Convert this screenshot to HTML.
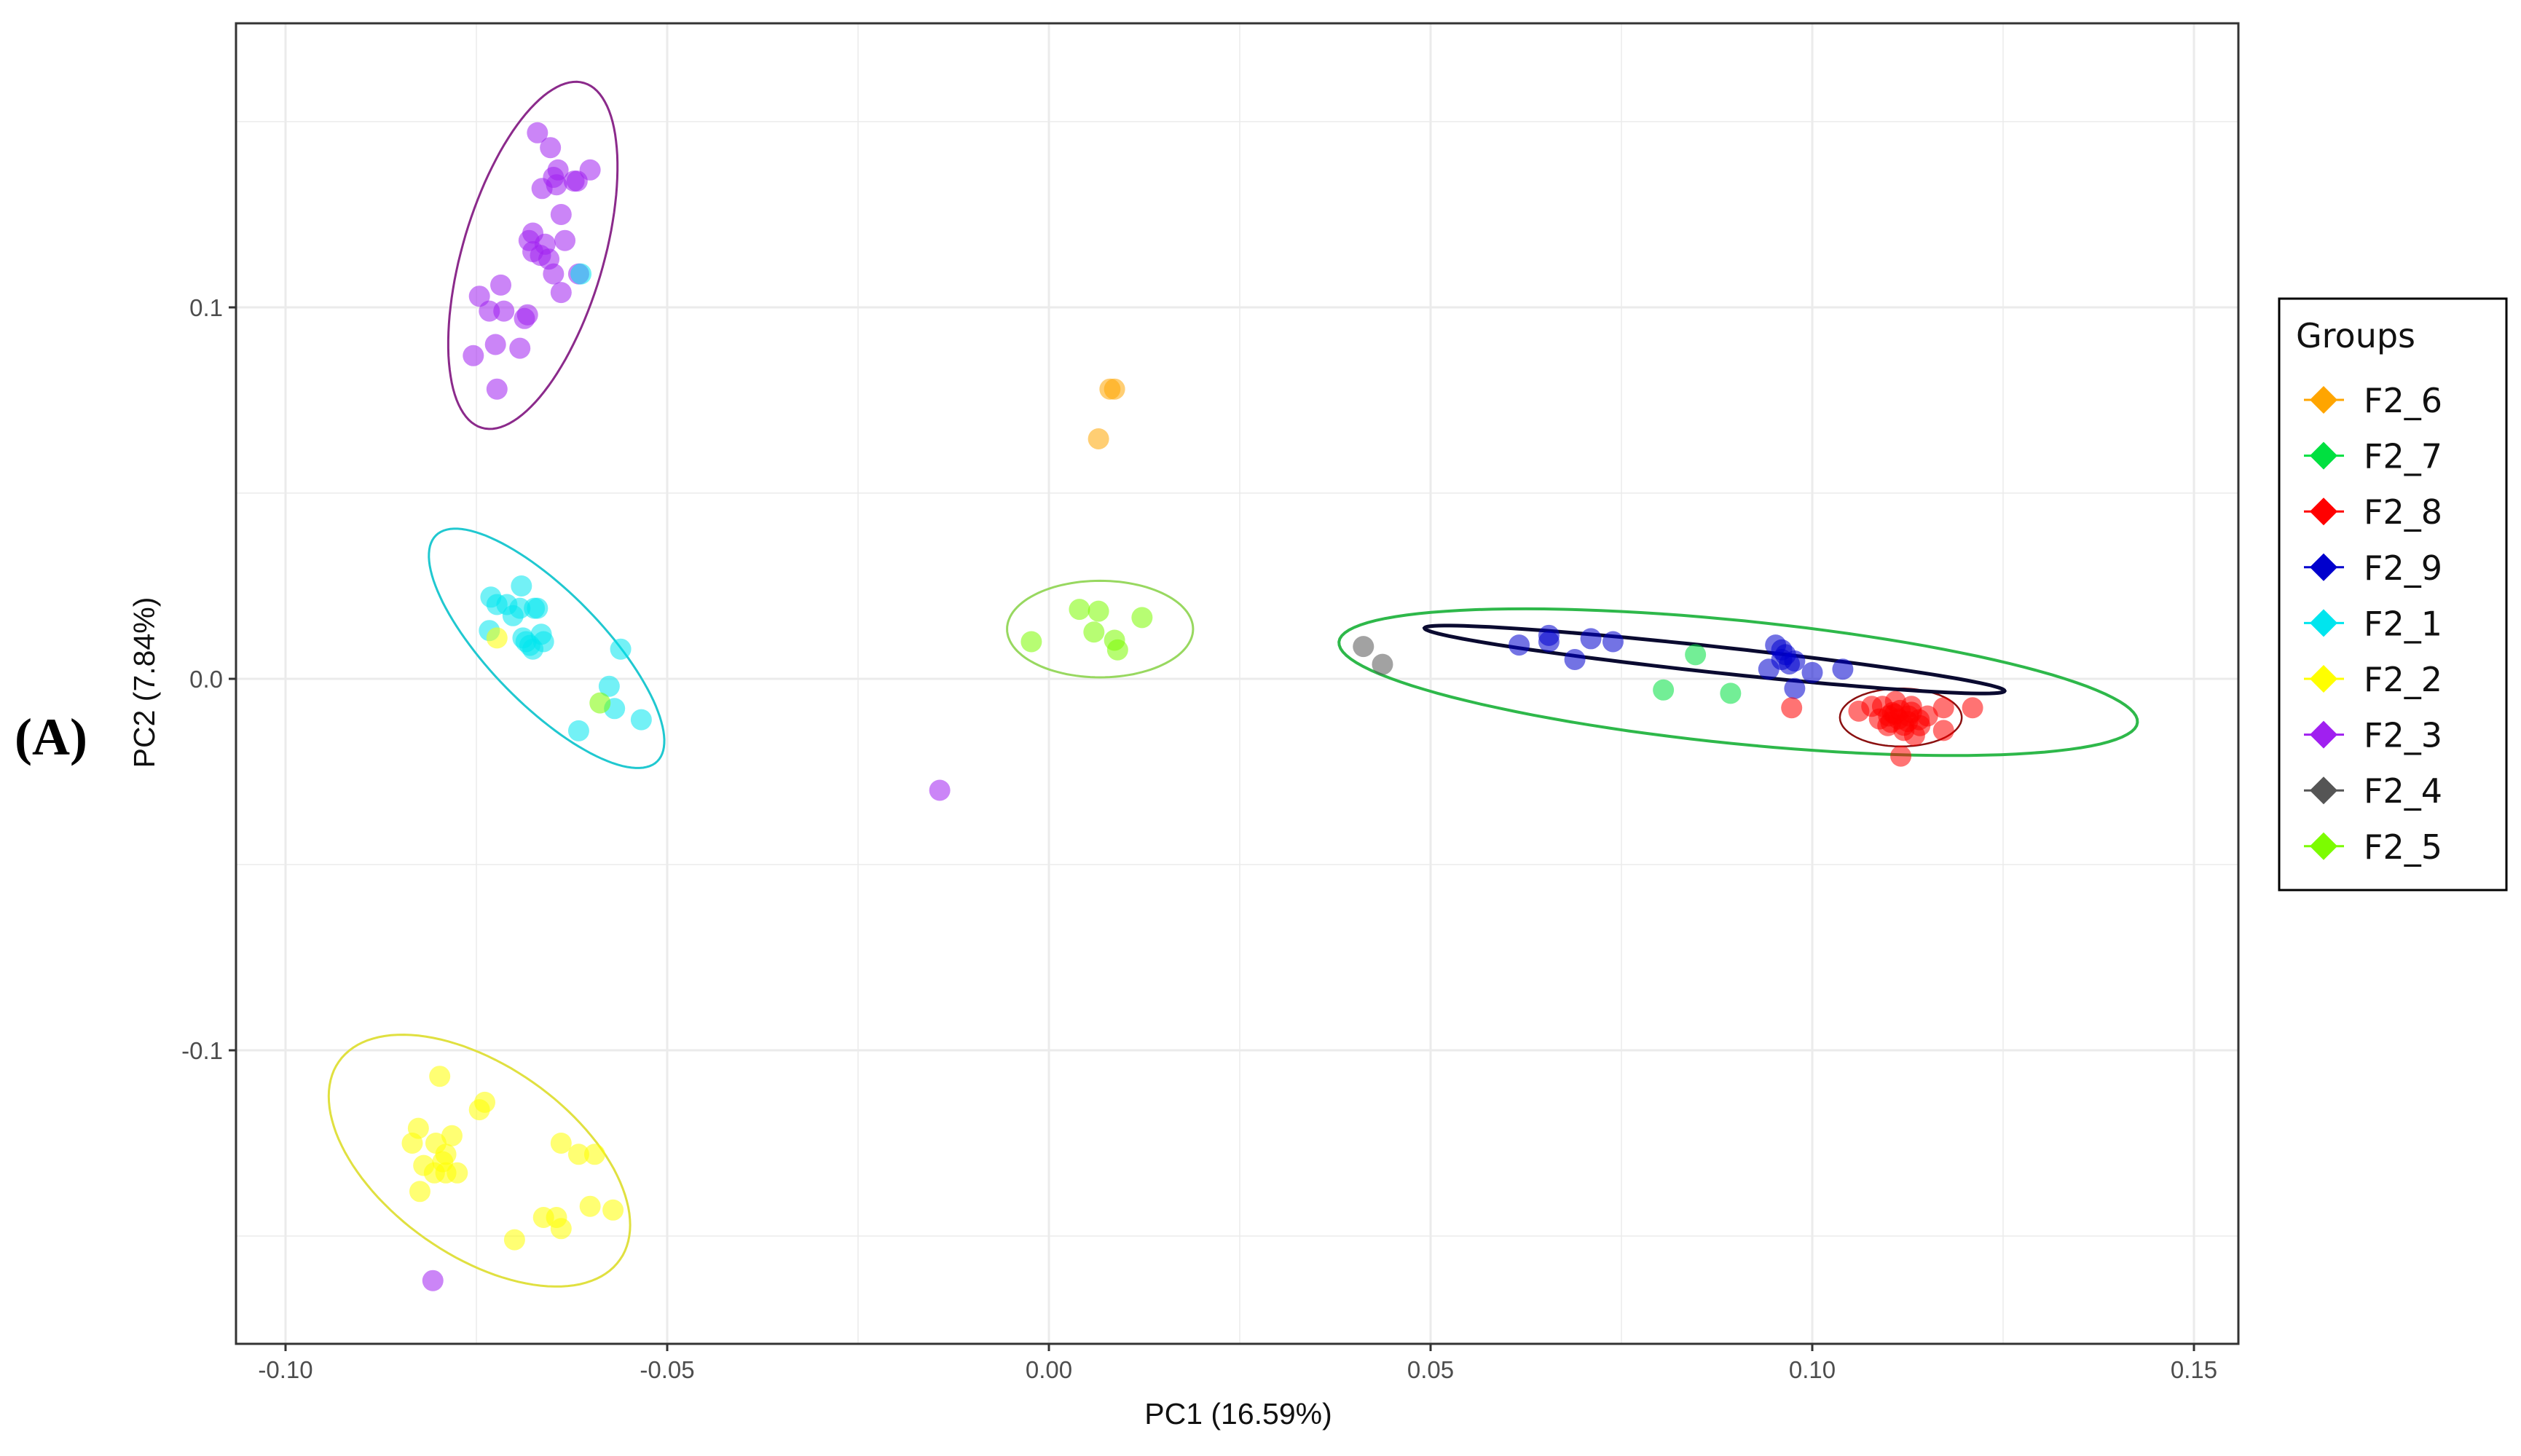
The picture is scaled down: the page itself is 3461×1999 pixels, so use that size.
<!DOCTYPE html>
<html><head><meta charset="utf-8"><style>
html,body{margin:0;padding:0;background:#fff;}
svg{display:block;}
</style></head><body>
<svg id="chart" width="3461" height="1999" viewBox="0 0 3461 1999" xmlns="http://www.w3.org/2000/svg" font-family="Liberation Sans, Arial, sans-serif">
<rect x="0" y="0" width="3461" height="1999" fill="#fff"/>
<g id="grid"></g>
<g id="ellipses"></g>
<g id="points"></g>
<rect x="324" y="32" width="2749" height="1813" fill="none" stroke="#333" stroke-width="3"/>
<g id="axes"></g>
<text x="1700" y="1955" font-size="41" text-anchor="middle" fill="#111">PC1 (16.59%)</text>
<text x="0" y="0" font-size="41" text-anchor="middle" fill="#111" transform="translate(212,937) rotate(-90)">PC2 (7.84%)</text>
<text x="20" y="1036" font-size="72" font-weight="bold" font-family="Liberation Serif, serif" fill="#000">(A)</text>
<g id="legend"></g>
</svg>
<script>
const NS='http://www.w3.org/2000/svg';
const xTicks=[-0.10,-0.05,0.00,0.05,0.10,0.15];
const xTickLabels=['-0.10','-0.05','0.00','0.05','0.10','0.15'];
const yTicks=[0.1,0.0,-0.1];
const yTickLabels=['0.1','0.0','-0.1'];
const groups=['F2_6','F2_7','F2_8','F2_9','F2_1','F2_2','F2_3','F2_4','F2_5'];
const groupColors=['#FFA500','#00E040','#FF0000','#0000CD','#00E5EE','#FFFF00','#A020F0','#555555','#7CFC00'];
const f26x=[0.0080,0.0086,0.0065];
const f26y=[0.078,0.078,0.0646];
const f27x=[0.0847,0.0805,0.0893];
const f27y=[0.0065,-0.0030,-0.0039];
const f28x=[0.0973,0.1061,0.1078,0.1092,0.1109,0.1130,0.1151,0.1172,0.1210,0.1103,0.1120,0.1141,0.1172,0.1116,0.1088,0.1126,0.1105,0.1113,0.1099,0.1134,0.1115,0.1125,0.1108,0.1120,0.1130,0.1100,0.1140];
const f28y=[-0.0078,-0.0087,-0.0074,-0.0074,-0.0061,-0.0074,-0.0100,-0.0078,-0.0078,-0.0117,-0.0139,-0.0126,-0.0139,-0.0208,-0.0108,-0.0100,-0.0091,-0.0108,-0.0126,-0.0152,-0.0085,-0.0115,-0.0095,-0.0125,-0.0090,-0.0100,-0.0110];
const f29x=[0.0616,0.0655,0.0655,0.0689,0.0710,0.0739,0.0960,0.0960,0.0943,0.0977,0.1000,0.1040,0.0977,0.0952,0.0965,0.0970];
const f29y=[0.0091,0.0117,0.0100,0.0052,0.0108,0.0100,0.0078,0.0052,0.0026,0.0048,0.0017,0.0026,-0.0026,0.0091,0.0065,0.0040];
const f21x=[-0.0691,-0.0731,-0.0710,-0.0693,-0.0670,-0.0674,-0.0733,-0.0689,-0.0676,-0.0685,-0.0662,-0.0561,-0.0576,-0.0569,-0.0534,-0.0616,-0.0613,-0.0723,-0.0702,-0.0680,-0.0665];
const f21y=[0.025,0.022,0.020,0.019,0.019,0.019,0.013,0.011,0.008,0.010,0.010,0.008,-0.002,-0.008,-0.011,-0.014,0.109,0.020,0.017,0.009,0.012];
const f22x=[-0.0798,-0.0739,-0.0746,-0.0826,-0.0834,-0.0803,-0.0782,-0.0819,-0.0794,-0.0790,-0.0790,-0.0639,-0.0616,-0.0595,-0.0824,-0.0805,-0.0775,-0.0662,-0.0645,-0.0639,-0.0700,-0.0601,-0.0571,-0.0723];
const f22y=[-0.107,-0.114,-0.116,-0.121,-0.125,-0.125,-0.123,-0.131,-0.130,-0.133,-0.128,-0.125,-0.128,-0.128,-0.138,-0.133,-0.133,-0.145,-0.145,-0.148,-0.151,-0.142,-0.143,0.011];
const f23x=[-0.0670,-0.0653,-0.0643,-0.0649,-0.0664,-0.0645,-0.0622,-0.0601,-0.0618,-0.0639,-0.0676,-0.0681,-0.0660,-0.0634,-0.0655,-0.0649,-0.0639,-0.0616,-0.0676,-0.0666,-0.0746,-0.0733,-0.0718,-0.0714,-0.0687,-0.0683,-0.0693,-0.0754,-0.0725,-0.0723,-0.0143,-0.0807];
const f23y=[0.147,0.143,0.137,0.135,0.132,0.133,0.134,0.137,0.134,0.125,0.120,0.118,0.117,0.118,0.113,0.109,0.104,0.109,0.115,0.114,0.103,0.099,0.106,0.099,0.097,0.098,0.089,0.087,0.090,0.078,-0.030,-0.162];
const f24x=[0.0412,0.0437];
const f24y=[0.0087,0.0039];
const f25x=[-0.0023,0.0040,0.0065,0.0059,0.0122,0.0086,0.0090,-0.0588];
const f25y=[0.010,0.0187,0.0182,0.0126,0.0165,0.0104,0.0078,-0.0065];
// ellipse: center x, center y, axis-a (dx,dy), axis-b (dx,dy) in data units
const ellCx=[0.0903,0.1116,0.0872,-0.0658,-0.0746,-0.0676,0.0067];
const ellCy=[-0.0009,-0.0104,0.0052,0.0082,-0.1297,0.114,0.0134];
const ellAx=[0.0523,0.00798,0.0380,0.0145,0.01842,0.00672,0.01218];
const ellAy=[-0.01085,0,-0.00846,-0.0304,-0.02664,0.0464,0];
const ellBx=[-0.0008,0,-0.00018,0.00525,-0.0071,0.00882,0];
const ellBy=[-0.0165,0.0078,-0.00347,0.01067,-0.02096,-0.00547,0.013];
const ellColors=['#2EB84A','#8B1010','#0A0A30','#20C8D0','#E0E040','#8B2A8B','#98D860'];
const ellWidths=[4,2.5,5,3,3,3,3];

const X0=1440, XS=10480, Y0=932, YS=5100;
const sx=v=>X0+v*XS, sy=v=>Y0-v*YS;
const L=324,R=3073,T=32,B=1845;
function el(tag,attrs,parent){const e=document.createElementNS(NS,tag);for(const k in attrs)e.setAttribute(k,attrs[k]);parent.appendChild(e);return e;}
const grid=document.getElementById('grid');
for(let v=-0.125;v<=0.151;v+=0.025){const x=sx(v);if(x<L||x>R)continue;const major=Math.abs(Math.round(v*40)%2)===0;
 const ln=el('line',{x1:x,x2:x,y1:T,y2:B,stroke:'#EBEBEB','stroke-width':major?3:1.5},grid);
 
 }
for(let v=-0.15;v<=0.151;v+=0.05){const y=sy(v);if(y<T||y>B)continue;const major=Math.abs(Math.round(v*20)%2)===0;
 const ln=el('line',{x1:L,x2:R,y1:y,y2:y,stroke:'#EBEBEB','stroke-width':major?3:1.5},grid);
 
 }
const axes=document.getElementById('axes');
xTicks.forEach((v,i)=>{const x=sx(v);
 const t=el('line',{x1:x,x2:x,y1:B,y2:B+10,stroke:'#333','stroke-width':3},axes);
 
 
 const tx=el('text',{x:x,y:B+47,'font-size':33,'text-anchor':'middle',fill:'#4D4D4D'},axes);tx.textContent=xTickLabels[i];
 
 });
yTicks.forEach((v,i)=>{const y=sy(v);
 const t=el('line',{x1:L-10,x2:L,y1:y,y2:y,stroke:'#333','stroke-width':3},axes);
 
 
 const tx=el('text',{x:L-18,y:y+12,'font-size':33,'text-anchor':'end',fill:'#4D4D4D'},axes);tx.textContent=yTickLabels[i];
 
 });
const eg=document.getElementById('ellipses');
ellCx.forEach((cx,i)=>{let d='';for(let k=0;k<=120;k++){const t=k/120*2*Math.PI;
 const px=sx(cx+ellAx[i]*Math.cos(t)+ellBx[i]*Math.sin(t)),py=sy(ellCy[i]+ellAy[i]*Math.cos(t)+ellBy[i]*Math.sin(t));
 d+=(k?'L':'M')+px.toFixed(1)+','+py.toFixed(1);}
 const p=el('path',{d:d+'Z',fill:'none',stroke:ellColors[i],'stroke-width':ellWidths[i]},eg);
 
 });
const pg=document.getElementById('points');
const seriesX=[f26x,f27x,f28x,f29x,f21x,f22x,f23x,f24x,f25x];
const seriesY=[f26y,f27y,f28y,f29y,f21y,f22y,f23y,f24y,f25y];
const order=[6,4,5,8,0,7,1,3,2];
order.forEach(g=>{seriesX[g].forEach((xv,j)=>{
 const c=el('circle',{cx:sx(xv),cy:sy(seriesY[g][j]),r:14.5,fill:groupColors[g],'fill-opacity':0.55},pg);
 
 });});
const lg=document.getElementById('legend');
const box=el('rect',{x:3129,y:410,width:312,height:812,fill:'#fff',stroke:'#000','stroke-width':3},lg);


const lt=el('text',{x:3152,y:477,'font-size':46,fill:'#111','font-family':'DejaVu Sans, sans-serif'},lg);lt.textContent='Groups';


groups.forEach((g,i)=>{const y=549+i*76.6;
 const ln=el('line',{x1:3163,x2:3218,y1:y,y2:y,stroke:groupColors[i],'stroke-width':3},lg);
 
 
 const dm=el('polygon',{points:`3190,${y-19} 3209,${y} 3190,${y+19} 3171,${y}`,fill:groupColors[i]},lg);
 
 
 const t=el('text',{x:3245,y:y+17,'font-size':46,fill:'#111','font-family':'DejaVu Sans, sans-serif'},lg);t.textContent=g;
 
 });
</script>
</body></html>
